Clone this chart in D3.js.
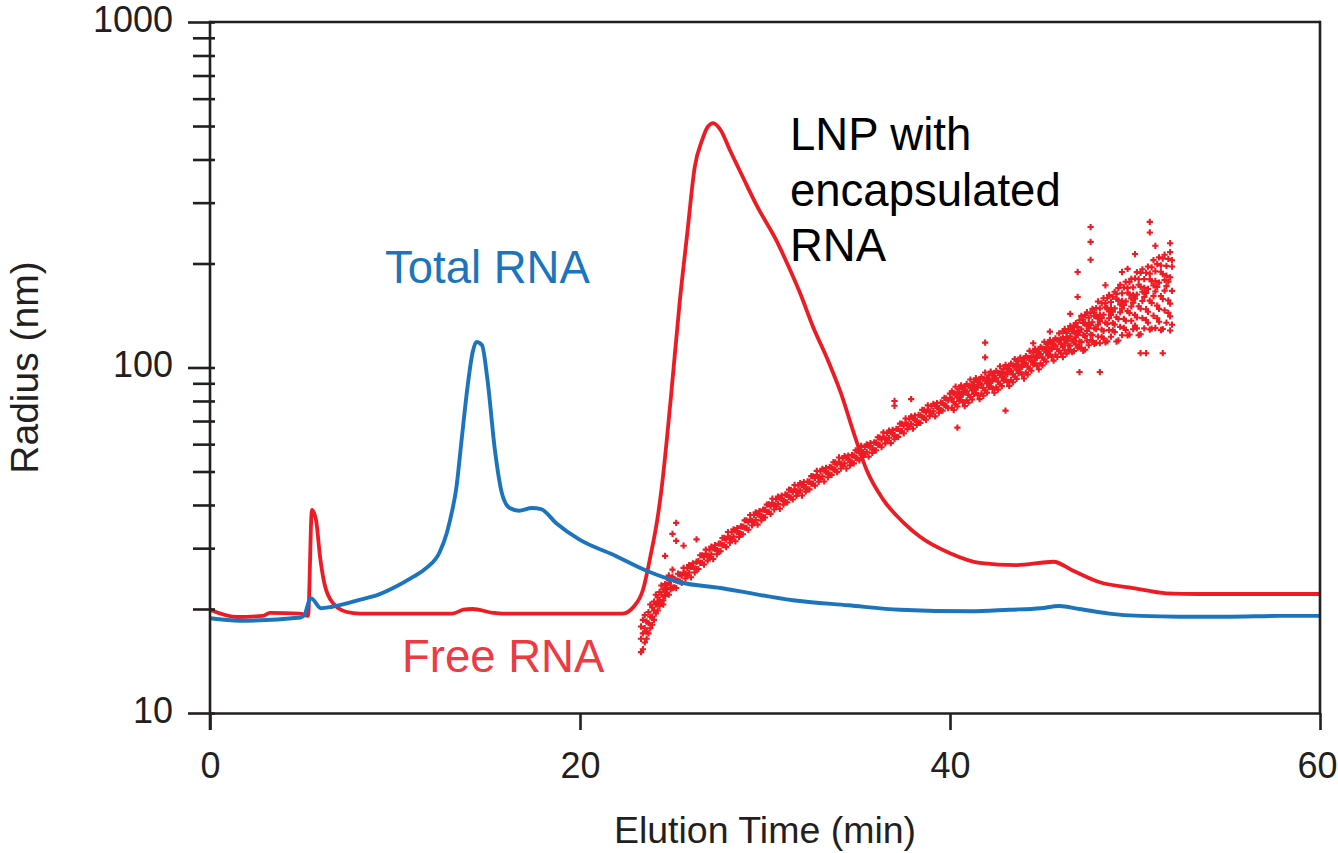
<!DOCTYPE html>
<html>
<head>
<meta charset="utf-8">
<script src="https://cdn.jsdelivr.net/npm/d3@7"></script>
<style>
  html, body { margin: 0; padding: 0; background: #ffffff; }
  svg { display: block; }
  text { font-family: "Liberation Sans", Arial, Helvetica, sans-serif; }
</style>
</head>
<body>
<svg id="chart" width="1338" height="853"></svg>
<script>
// Elution profiles: radius (nm) vs elution time (min)

// Total RNA trace [time, radius]
const totalRna = [
  [0, 18.8], [1.6, 18.5], [4.9, 18.9], [5.1, 19.2], [5.45, 21.5], [6.0, 20.1],
  [6.6, 20.3], [7.6, 20.9], [8.3, 21.4], [9.0, 21.9], [9.9, 23.0], [11.0, 24.8],
  [11.7, 26.3], [12.4, 29.1], [12.8, 33.2], [13.1, 38.7], [13.3, 44.2], [13.6, 61.7],
  [13.9, 86.1], [14.2, 110.9], [14.4, 118.5], [14.7, 116.1], [15.0, 92.0], [15.4, 57.7],
  [15.8, 42.8], [16.2, 39.2], [16.7, 38.5], [17.4, 39.2], [17.9, 38.9], [18.7, 35.5],
  [20.0, 31.7], [21.8, 28.7], [23.6, 25.8], [25.4, 23.9], [27.6, 23.0], [31.5, 21.2],
  [34.5, 20.5], [37.3, 19.9], [41.1, 19.7], [43.2, 19.9], [44.9, 20.1], [45.9, 20.4],
  [47.0, 20.0], [48.6, 19.4], [50.3, 19.1], [52.4, 19.0], [55.1, 19.0], [57.8, 19.1],
  [60, 19.1]
];

// Free RNA / LNP trace [time, radius]
const lnpTrace = [
  [0, 19.9], [1.46, 18.96], [2.86, 19.1], [3.24, 19.5], [4.86, 19.4], [5.3, 19.1],
  [5.51, 38.7], [5.73, 36.2], [5.95, 28.3], [6.2, 23.5], [6.65, 20.8], [7.4, 19.6],
  [8.1, 19.4], [13.1, 19.4], [13.7, 19.9], [14.2, 20.0], [15.3, 19.5], [15.8, 19.4],
  [22.3, 19.4], [22.9, 20.3], [23.4, 22.7], [23.8, 28.3], [24.2, 36.9], [24.4, 44.2],
  [24.9, 80.5], [25.4, 156.8], [25.8, 245], [26.2, 380], [26.6, 455], [26.9, 497],
  [27.2, 510], [27.6, 487], [28.1, 426], [28.8, 356], [29.6, 291], [30.6, 234],
  [31.2, 200], [31.9, 164], [32.6, 131], [33.4, 105], [34.1, 84.4], [34.8, 64.6],
  [35.5, 50.4], [36.4, 41.4], [37.5, 35.5], [38.4, 32.3], [40.0, 29.0], [41.6, 27.2],
  [43.6, 26.8], [45.6, 27.4], [46.6, 25.9], [48.1, 23.9], [49.9, 23.0], [51.7, 22.2],
  [53.5, 22.1], [60, 22.1]
];

// Light-scattering radius readings: [time, radius, radius, ...]
const lnpScatterRows = [
  [23.3, 15.0, 16.4, 17.8], [23.4, 15.3, 17.0, 18.6], [23.5, 16.0, 17.6, 19.2],
  [23.6, 16.4, 18.4, 17.2], [23.7, 17.0, 19.6, 18.2], [23.8, 17.6, 19.0, 20.6],
  [23.9, 18.0, 20.2, 19.0], [24.0, 18.6, 21.0, 19.8], [24.1, 19.4, 20.6, 22.0],
  [24.2, 19.8, 21.6, 20.8], [24.3, 20.4, 22.4, 21.2], [24.4, 20.9, 22.0, 23.4],
  [24.5, 21.2, 22.8, 20.6], [24.6, 21.8, 23.6, 22.4], [24.7, 22.2, 23.0, 24.6],
  [24.8, 22.0, 23.8, 25.0], [24.9, 22.8, 24.4, 23.4], [25.0, 23.0, 24.8, 26.0],
  [25.1, 23.1, 24.3], [25.2, 24.2, 23.0], [25.3, 24.1, 25.3], [25.4, 25.2, 24.0],
  [25.5, 23.8, 25.0], [25.6, 25.5, 26.3], [25.7, 25.3, 24.5], [25.8, 25.0, 26.3],
  [25.9, 26.8, 25.5], [26.0, 24.7, 26.5], [26.1, 26.6, 27.1], [26.2, 26.1, 25.5],
  [26.3, 26.1, 27.4], [26.4, 27.5, 26.1], [26.5, 27.2, 28.6], [26.6, 28.6, 27.2],
  [26.7, 26.9, 28.3], [26.8, 28.9, 29.7], [26.9, 28.5, 27.6], [27.0, 28.2, 29.7],
  [27.1, 30.3, 28.8], [27.2, 27.9, 30.0], [27.3, 30.0, 30.6], [27.4, 29.4, 28.8],
  [27.5, 29.4, 30.9], [27.6, 30.9, 29.4], [27.7, 30.6, 32.1], [27.8, 32.1, 30.6],
  [27.9, 30.2, 31.8], [28.0, 32.4, 33.4], [28.1, 32.1, 31.1], [28.2, 31.8, 33.4],
  [28.3, 34.0, 32.4], [28.4, 31.4, 33.7], [28.5, 33.6, 34.3], [28.6, 32.9, 32.3],
  [28.7, 33.0, 34.7], [28.8, 34.6, 32.9], [28.9, 34.4, 36.1], [29.0, 36.1, 34.3],
  [29.1, 33.9, 35.7], [29.2, 36.3, 37.4], [29.3, 36.0, 34.9], [29.4, 35.6, 37.4],
  [29.5, 38.1, 36.2], [29.6, 35.1, 37.6], [29.7, 37.7, 38.4], [29.8, 36.8, 36.1],
  [29.9, 36.9, 38.8], [30.0, 38.7, 36.8], [30.1, 38.2, 40.1], [30.2, 40.2, 38.2],
  [30.3, 37.7, 39.7], [30.4, 40.5, 41.7], [30.5, 40.0, 38.8], [30.6, 39.6, 41.6],
  [30.7, 42.3, 40.3], [30.8, 39.0, 41.9], [30.9, 41.8, 42.6], [31.0, 41.0, 40.1],
  [31.1, 40.8, 42.9], [31.2, 42.8, 40.7], [31.3, 42.2, 44.3], [31.4, 44.2, 42.0],
  [31.5, 41.5, 43.6], [31.6, 44.4, 45.7], [31.7, 43.8, 42.5], [31.8, 43.3, 45.5],
  [31.9, 46.3, 44.1], [32.0, 42.6, 45.7], [32.1, 45.7, 46.6], [32.2, 44.6, 43.7],
  [32.3, 44.5, 46.8], [32.4, 46.7, 44.4], [32.5, 46.1, 48.5], [32.6, 48.4, 46.1],
  [32.7, 45.5, 47.9], [32.8, 48.8, 50.2], [32.9, 48.1, 46.7], [33.0, 47.5, 50.0],
  [33.1, 50.9, 48.4], [33.2, 46.8, 50.3], [33.3, 50.2, 51.2], [33.4, 49.1, 48.1],
  [33.5, 49.0, 51.5], [33.6, 51.4, 48.9], [33.7, 50.7, 53.2], [33.8, 53.1, 50.6],
  [33.9, 49.8, 52.4], [34.0, 53.3, 54.9], [34.1, 52.6, 51.0], [34.2, 51.9, 54.6],
  [34.3, 55.4, 52.8], [34.4, 51.0, 54.8], [34.5, 54.5, 55.6], [34.6, 53.2, 52.1],
  [34.7, 53.1, 55.8], [34.8, 55.6, 52.8], [34.9, 54.8, 57.6], [35.0, 57.4, 54.6],
  [35.1, 53.9, 56.7], [35.2, 57.6, 59.3], [35.3, 56.8, 55.1], [35.4, 56.1, 58.9],
  [35.5, 59.9, 57.0], [35.6, 55.2, 59.3], [35.7, 59.2, 60.4], [35.8, 57.8, 56.6],
  [35.9, 57.7, 60.7], [36.0, 60.6, 57.6], [36.1, 59.8, 62.8], [36.2, 62.7, 59.7],
  [36.3, 58.8, 61.9], [36.4, 63.0, 64.9], [36.5, 62.2, 60.3], [36.6, 61.4, 64.6],
  [36.7, 65.7, 62.6], [36.8, 60.4, 64.9], [36.9, 64.7, 66.0], [37.0, 63.3, 62.0],
  [37.1, 63.1, 66.4], [37.2, 66.3, 63.0], [37.3, 65.5, 68.8], [37.4, 68.7, 65.4],
  [37.5, 64.5, 67.9], [37.6, 69.2, 71.2], [37.7, 68.3, 66.3], [37.8, 67.5, 71.0],
  [37.9, 72.2, 68.7], [38.0, 66.5, 71.4], [38.1, 71.2, 72.6], [38.2, 69.6, 68.2],
  [38.3, 69.4, 72.9], [38.4, 72.7, 69.1], [38.5, 71.8, 75.4], [38.6, 75.2, 71.5],
  [38.7, 70.6, 74.2], [38.8, 75.5, 77.7], [38.9, 74.5, 72.3], [39.0, 73.5, 77.3],
  [39.1, 78.5, 74.7], [39.2, 72.2, 77.5], [39.3, 77.4, 78.9], [39.4, 75.6, 74.0],
  [39.5, 75.3, 79.2], [39.6, 78.9, 75.0], [39.7, 77.8, 81.7], [39.8, 81.4, 77.4],
  [39.9, 76.3, 80.3], [40.0, 81.6, 84.0],
  [40.1, 76.5, 81.3, 85.3], [40.2, 79.4, 84.2, 75.3], [40.3, 83.9, 78.2, 88.0],
  [40.4, 77.1, 82.0, 84.5], [40.5, 86.6, 81.7, 80.0], [40.6, 80.5, 88.8, 83.8],
  [40.7, 83.5, 79.3, 86.8], [40.8, 85.7, 77.3, 88.2], [40.9, 80.3, 85.3, 89.6],
  [41.0, 83.3, 88.4, 79.1], [41.1, 88.1, 82.1, 92.3], [41.2, 80.8, 86.0, 88.6],
  [41.3, 90.8, 85.6, 83.9], [41.4, 84.4, 93.1, 87.9], [41.5, 87.5, 83.1, 91.0],
  [41.6, 89.8, 81.0, 92.4], [41.7, 84.1, 89.4, 93.8], [41.8, 87.2, 92.6, 82.8],
  [41.9, 92.2, 85.9, 96.7], [42.0, 84.6, 90.0, 92.7], [42.1, 94.9, 89.5, 87.7],
  [42.2, 88.2, 97.3, 91.8], [42.3, 91.3, 86.7, 95.0], [42.4, 93.6, 84.5, 96.4],
  [42.5, 87.6, 93.1, 97.7], [42.6, 90.9, 96.5, 86.3], [42.7, 96.1, 89.6, 100.8],
  [42.8, 88.3, 93.9, 96.7], [42.9, 99.1, 93.5, 91.6], [43.0, 92.2, 101.7, 96.0],
  [43.1, 95.6, 90.8, 99.4], [43.2, 98.1, 88.5, 101.0], [43.3, 92.0, 97.8, 102.6],
  [43.4, 95.5, 101.3, 90.6], [43.5, 100.9, 94.1, 105.8], [43.6, 92.7, 98.6, 101.6],
  [43.7, 104.2, 98.2, 96.2], [43.8, 96.8, 106.8, 100.8], [43.9, 100.4, 95.4, 104.4],
  [44.0, 103.0, 92.9, 106.1], [44.1, 96.7, 102.8, 107.9], [44.2, 100.5, 106.7, 95.4],
  [44.3, 106.5, 99.3, 111.7], [44.4, 97.9, 104.2, 107.3], [44.5, 110.3, 104.0, 101.9],
  [44.6, 102.6, 113.2, 106.9], [44.7, 106.6, 101.3, 110.9], [44.8, 109.5, 98.8, 112.8],
  [44.9, 102.8, 109.3, 114.7], [45.0, 106.8, 113.4, 101.4], [45.1, 113.1, 105.4, 118.6],
  [45.2, 104.0, 110.6, 113.9], [45.3, 117.0, 110.3, 108.1], [45.4, 108.8, 120.1, 113.3],
  [45.5, 113.0, 107.4, 117.5], [45.6, 116.1, 104.7, 119.5], [45.7, 108.9, 115.7, 121.5],
  [45.8, 113.1, 120.0, 107.3], [45.9, 119.7, 111.6, 125.5], [46.0, 110.0, 117.0, 120.5],
  [46.1, 107.2, 114.6, 122.0, 127.3], [46.2, 112.2, 120.7, 129.3, 117.5],
  [46.3, 125.8, 109.7, 119.4, 122.6], [46.4, 115.9, 128.9, 112.6, 121.3],
  [46.5, 131.9, 115.6, 123.2, 112.3], [46.6, 119.6, 127.3, 110.8, 129.5],
  [46.7, 111.6, 119.3, 127.0, 132.5], [46.8, 116.7, 125.6, 134.5, 122.3],
  [46.9, 130.9, 114.1, 124.2, 127.6], [47.0, 119.0, 137.0, 114.5, 126.5],
  [47.1, 141.1, 118.4, 129.0, 113.9], [47.2, 124.0, 134.6, 111.8, 137.7],
  [47.3, 112.6, 123.4, 134.1, 141.8], [47.4, 119.7, 132.1, 144.5, 127.5],
  [47.5, 139.4, 116.0, 130.0, 134.7], [47.6, 124.7, 143.6, 120.0, 132.6],
  [47.7, 147.8, 124.1, 135.2, 119.3], [47.8, 129.8, 141.0, 117.0, 144.2],
  [47.9, 117.9, 129.2, 140.4, 148.5], [48.0, 122.9, 139.1, 155.3, 133.0],
  [48.1, 148.2, 117.6, 136.0, 142.1], [48.2, 128.8, 153.4, 122.6, 139.1],
  [48.3, 158.7, 127.7, 142.1, 121.4], [48.4, 134.8, 149.4, 118.2, 153.6],
  [48.5, 119.0, 133.7, 148.4, 158.9], [48.6, 128.3, 145.2, 162.2, 138.9],
  [48.7, 154.8, 122.8, 142.0, 148.4], [48.8, 134.4, 160.2, 128.0, 145.1],
  [48.9, 165.6, 133.2, 148.3, 126.7], [49.0, 139.8, 158.1, 118.9, 163.3],
  [49.1, 119.7, 138.1, 156.5, 169.7], [49.2, 131.1, 152.3, 173.5, 144.4],
  [49.3, 164.0, 124.0, 148.0, 156.0], [49.4, 138.3, 170.5, 130.2, 151.7],
  [49.5, 177.0, 136.5, 155.4, 128.4], [49.6, 145.6, 164.6, 123.8, 170.0],
  [49.7, 124.6, 143.8, 162.9, 176.6], [49.8, 136.5, 158.5, 180.5, 150.2],
  [49.9, 170.6, 129.1, 154.0, 162.3], [50.0, 142.0, 181.0, 132.2, 158.3],
  [50.1, 188.8, 139.6, 162.6, 129.8], [50.2, 150.4, 173.5, 124.0, 180.1],
  [50.3, 124.8, 148.0, 171.3, 187.9], [50.4, 139.0, 165.7, 192.4, 155.7],
  [50.5, 180.2, 129.8, 160.0, 170.1], [50.6, 147.5, 188.0, 137.3, 164.4],
  [50.7, 196.0, 145.0, 168.8, 134.8], [50.8, 156.2, 180.1, 128.8, 187.0],
  [50.9, 129.6, 153.7, 177.8, 195.0], [51.0, 141.2, 172.9, 204.6, 161.0],
  [51.1, 189.9, 130.1, 166.0, 178.0], [51.2, 151.0, 199.1, 138.9, 171.0],
  [51.3, 208.3, 147.8, 176.1, 135.7], [51.4, 160.9, 189.3, 128.4, 197.4],
  [51.5, 129.2, 157.8, 186.3, 206.7], [51.6, 146.4, 179.2, 212.0, 166.9],
  [51.7, 196.8, 134.8, 172.0, 184.4], [51.8, 156.4, 206.2, 143.9, 177.2],
  [51.9, 215.8, 153.1, 182.4, 140.6], [52.0, 166.6, 196.0, 133.0, 204.4]
];

// Isolated readings away from the main band [time, radius]
const lnpOutliers = [
  [24.6, 28.5], [25.0, 33.0], [25.2, 35.5], [25.2, 31.5], [25.6, 30.5], [26.3, 31.8],
  [37.0, 80.0], [37.0, 77.5], [37.9, 81.0], [40.4, 67.0], [41.9, 107], [41.9, 118],
  [43.0, 75.0], [43.6, 104.5], [44.5, 117.5], [45.4, 127], [46.5, 143], [46.9, 160],
  [46.9, 189], [47.6, 205], [47.6, 231], [47.6, 255], [48.1, 97], [47.0, 97],
  [48.4, 173], [49.3, 189], [49.6, 193], [50.0, 213], [50.3, 110], [50.6, 110],
  [50.8, 246], [50.8, 264], [51.1, 225], [51.5, 110], [51.9, 229], [51.9, 128]
];

const xTicks = [0, 20, 40, 60];
const yMajorTicks = [10, 100, 1000];
const yMinorTicks = [20, 30, 40, 50, 60, 70, 80, 90, 200, 300, 400, 500, 600, 700, 800, 900];

const xTitle = "Elution Time (min)";
const yTitle = "Radius (nm)";
const lnpLabelLines = ["LNP with", "encapsulated", "RNA"];

const RED = "#ed1c24";
const BLUE = "#1c75bc";
const INK = "#231f20";
const FONT = "'Liberation Sans', Arial, sans-serif";

const svg = d3.select("#chart");
const x = d3.scaleLinear().domain([0, 60]).range([210, 1320]);
const y = d3.scaleLog().domain([10, 1000]).range([713, 22]);

// Scatter of radius readings
const scatterPts = [];
lnpScatterRows.forEach(row => {
  for (let i = 1; i < row.length; i++) scatterPts.push([row[0], row[i]]);
});
lnpOutliers.forEach(p => scatterPts.push(p));

const sym = d3.symbol().type(d3.symbolCross).size(22);
svg.append("g")
  .selectAll("path")
  .data(scatterPts)
  .join("path")
  .attr("transform", d => `translate(${x(d[0])},${y(d[1])})`)
  .attr("d", sym)
  .attr("fill", RED);

// Traces
const line = d3.line()
  .x(d => x(d[0]))
  .y(d => y(d[1]))
  .curve(d3.curveMonotoneX);

svg.append("path")
  .datum(lnpTrace)
  .attr("d", line)
  .attr("fill", "none")
  .attr("stroke", RED)
  .attr("stroke-width", 3.8)
  .attr("stroke-linejoin", "round");

svg.append("path")
  .datum(totalRna)
  .attr("d", line)
  .attr("fill", "none")
  .attr("stroke", BLUE)
  .attr("stroke-width", 3.9)
  .attr("stroke-linejoin", "round");

// Frame: top and right edges
svg.append("line")
  .attr("x1", x(0)).attr("x2", x(60))
  .attr("y1", y(1000)).attr("y2", y(1000))
  .attr("stroke", INK).attr("stroke-width", 2.6);
svg.append("line")
  .attr("x1", x(60)).attr("x2", x(60))
  .attr("y1", y(1000) - 1.3).attr("y2", y(10))
  .attr("stroke", INK).attr("stroke-width", 2.6);

// Bottom axis
const xAxis = svg.append("g")
  .attr("transform", `translate(0,${y(10)})`)
  .call(d3.axisBottom(x).tickValues(xTicks).tickSize(17).tickSizeOuter(0).tickPadding(22));
xAxis.select(".domain").attr("stroke", INK).attr("stroke-width", 2.6);
xAxis.selectAll(".tick line").attr("stroke", INK).attr("stroke-width", 2.6);
xAxis.selectAll(".tick text")
  .attr("fill", INK)
  .attr("dx", d => d === 60 ? -3 : 0)
  .style("font-size", "36px")
  .style("font-family", FONT);

// Left axis: minor ticks
const yMinor = svg.append("g")
  .attr("transform", `translate(${x(0)},0)`)
  .call(d3.axisLeft(y).tickValues(yMinorTicks).tickSize(17).tickSizeOuter(0).tickFormat(""));
yMinor.select(".domain").remove();
yMinor.selectAll(".tick line").attr("x1", 5).attr("stroke", INK).attr("stroke-width", 2.6);

// Left axis: major ticks and labels
const yAxis = svg.append("g")
  .attr("transform", `translate(${x(0)},0)`)
  .call(d3.axisLeft(y).tickValues(yMajorTicks).tickSize(22).tickSizeOuter(0)
    .tickPadding(15).tickFormat(d3.format("d")));
yAxis.select(".domain").attr("stroke", INK).attr("stroke-width", 2.6)
  .attr("d", `M0,${y(1000) - 1.3}V${y(10) + 17}`);
yAxis.selectAll(".tick line").attr("x1", 5).attr("stroke", INK).attr("stroke-width", 2.6);
yAxis.selectAll(".tick text")
  .attr("fill", INK)
  .attr("dy", "0.25em")
  .style("font-size", "36px")
  .style("font-family", FONT);

// Axis titles
svg.append("text")
  .attr("x", (x(0) + x(60)) / 2)
  .attr("y", 843)
  .attr("text-anchor", "middle")
  .attr("fill", INK)
  .style("font-size", "37.5px")
  .text(xTitle);

svg.append("text")
  .attr("transform", `translate(38,${(y(10) + y(1000)) / 2}) rotate(-90)`)
  .attr("text-anchor", "middle")
  .attr("fill", INK)
  .style("font-size", "39px")
  .text(yTitle);

// Trace annotations
svg.append("text")
  .attr("x", 385).attr("y", 283)
  .attr("fill", BLUE)
  .style("font-size", "45.5px")
  .text("Total RNA");

svg.append("text")
  .attr("x", 402).attr("y", 672)
  .attr("fill", "#ee3a42")
  .style("font-size", "45.5px")
  .text("Free RNA");

svg.append("text")
  .attr("fill", "#000000")
  .style("font-size", "45.5px")
  .selectAll("tspan")
  .data(lnpLabelLines)
  .join("tspan")
  .attr("x", 790)
  .attr("y", (d, i) => 150 + i * 55.5)
  .text(d => d);
</script>
</body>
</html>
